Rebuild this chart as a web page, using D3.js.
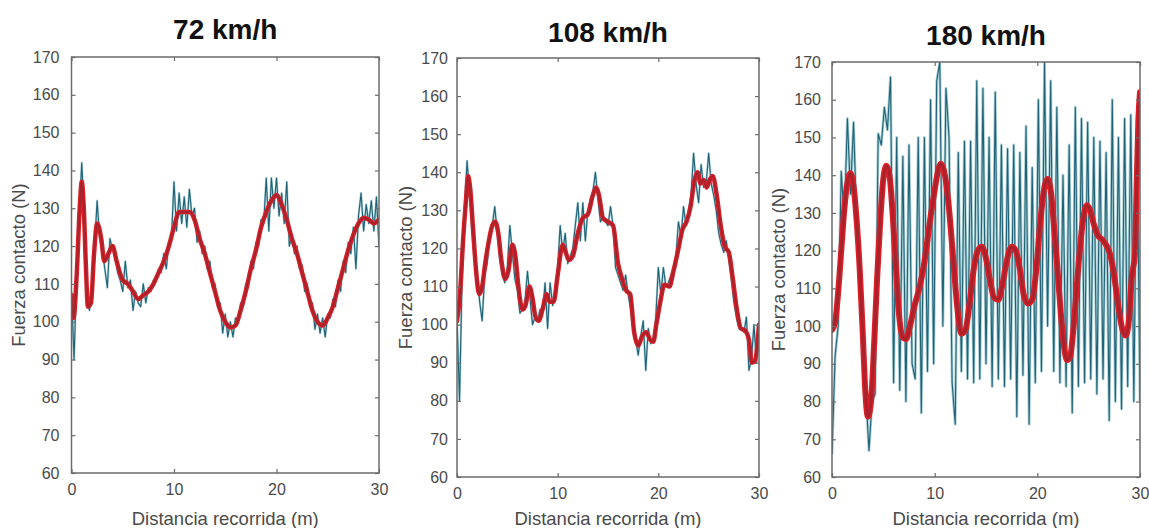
<!DOCTYPE html>
<html>
<head>
<meta charset="utf-8">
<script src="https://cdn.jsdelivr.net/npm/d3@7"></script>
<style>
  body { margin: 0; background: #fff; }
  svg { display: block; }
</style>
</head>
<body>
<svg id="chart" width="1149" height="528"></svg>
<script>
// --- data ---
const titles = ['72 km/h', '108 km/h', '180 km/h'];
const yTicks = [60, 70, 80, 90, 100, 110, 120, 130, 140, 150, 160, 170];
const xTicks = [0, 10, 20, 30];

// raw contact force (blue), evenly spaced over 0..30 m
const raw72 = [
  108, 90, 112, 128, 142, 128, 106, 103, 110, 120, 132, 122,
  119, 114, 109, 122, 119, 118, 113, 111, 108, 116, 109, 111,
  103, 108, 105, 104, 110, 105, 109, 108, 111, 111, 114, 113,
  118, 114, 121, 122, 137, 124, 134, 126, 133, 125, 135, 128,
  130, 121, 124, 118, 120, 114, 116, 109, 110, 104, 105, 97,
  102, 96, 100, 96, 101, 100, 105, 104, 110, 109, 116, 114,
  121, 120, 127, 126, 138, 124, 138, 130, 138, 128, 134, 126,
  137, 120, 123, 118, 120, 114, 115, 108, 110, 104, 105, 98,
  102, 97, 101, 96, 102, 101, 106, 104, 111, 108, 116, 113,
  121, 118, 125, 114, 128, 134, 124, 131, 126, 132, 124, 133,
  120
];
const raw108 = [
  102, 80, 112, 130, 143, 134, 124, 117, 114, 106, 101, 113,
  116, 124, 126, 131, 124, 117, 113, 111, 115, 126, 119, 112,
  109, 103, 104, 106, 114, 107, 100, 102, 101, 104, 103, 111,
  99, 111, 105, 108, 115, 126, 119, 124, 116, 118, 120, 126,
  132, 122, 132, 122, 130, 133, 135, 140, 133, 127, 128, 127,
  126, 131, 126, 115, 113, 111, 109, 113, 108, 104, 98, 96,
  92, 97, 101, 88, 99, 95, 96, 102, 115, 108, 115, 110,
  111, 113, 115, 118, 127, 123, 131, 126, 130, 134, 145, 137,
  132, 142, 136, 137, 145, 137, 134, 130, 124, 121, 119, 122,
  117, 112, 106, 102, 99, 99, 98, 102, 88, 91, 100, 90,
  101
];
const raw180 = [
  66, 92, 100, 141, 128, 155, 135, 154, 128, 118,
  95, 82, 67, 80, 82, 151, 148, 158, 152, 166,
  85, 150, 83, 145, 80, 148, 90, 86, 150, 77,
  150, 88, 160, 90, 165, 170, 100, 163, 150, 85,
  74, 146, 88, 149, 86, 149, 85, 165, 86, 163,
  90, 150, 84, 162, 86, 148, 84, 147, 86, 148,
  76, 146, 87, 153, 74, 142, 85, 160, 88, 170,
  100, 165, 88, 158, 85, 140, 84, 148, 77, 158,
  84, 155, 85, 154, 86, 150, 82, 149, 86, 146,
  75, 160, 80, 150, 78, 155, 84, 156, 80, 155,
  80
];

// filtered force (red): distances and values
const smoothX72 = [0, 0.2, 0.5, 0.8, 1.0, 1.2, 1.4, 1.6, 1.9, 2.2, 2.5, 2.9, 3.2, 3.6, 4.0, 4.4,
  5, 5.5, 6, 6.5, 7, 7.5, 8, 8.5, 9, 9.5, 10, 10.5, 11, 11.5, 12, 12.5, 13, 13.5, 14, 14.5,
  15, 15.5, 16, 16.5, 17, 17.5, 18, 18.5, 19, 19.5, 20, 20.5, 21, 21.5, 22, 22.5, 23, 23.5,
  24, 24.5, 25, 25.5, 26, 26.5, 27, 27.5, 28, 28.5, 29, 29.5, 30];
const smoothY72 = [107, 101, 112, 130, 137, 130, 115, 104, 105, 118, 126, 122, 116, 118, 120, 116,
  111, 110, 108, 106, 107, 108, 110, 113, 116, 120, 125, 129, 129, 129, 127, 122, 118, 113, 108, 103,
  100, 98.5, 99, 103, 108, 114, 119, 125, 129, 132, 133.5, 131, 127, 122, 118, 113, 108, 103,
  100, 99, 101, 104, 109, 114, 119, 123, 126, 127.5, 127, 126, 127];

const smoothX108 = [0, 0.3, 0.6, 0.9, 1.1, 1.3, 1.6, 1.9, 2.2, 2.5, 2.8, 3.1, 3.5, 3.8, 4.1, 4.4,
  4.8, 5.1, 5.5, 5.8, 6.1, 6.5, 6.8, 7.2, 7.5, 7.8, 8.1, 8.5, 8.9, 9.2, 9.6, 10, 10.5, 10.8,
  11.1, 11.5, 12, 12.5, 13, 13.5, 13.8, 14.1, 14.5, 15, 15.5, 16, 16.4, 16.8, 17.2, 17.6, 18,
  18.4, 18.8, 19.2, 19.5, 19.8, 20.2, 20.6, 21.1, 21.5, 22, 22.4, 22.8, 23.2, 23.6, 23.9, 24.2,
  24.5, 24.8, 25.1, 25.4, 25.8, 26.2, 26.6, 27, 27.4, 27.8, 28.2, 28.6, 29, 29.3, 29.6, 30];
const smoothY108 = [101, 108, 122, 133, 139, 136, 125, 114, 108, 110, 116, 121, 126, 127, 124, 117,
  112, 114, 121, 118, 110, 104, 105, 110, 107, 102, 101, 104, 108, 106, 106, 113, 121, 119,
  117, 118, 124, 128, 129, 134, 136, 134, 128, 127, 126, 116, 112, 109, 108, 98, 94.5,
  97, 98, 96, 95.5, 100, 106, 110.5, 110, 114, 120, 125, 127, 131, 138, 140, 137,
  138, 136, 138, 139, 134, 126, 120.5, 119, 112, 104, 99, 98.5, 96, 90, 90.5, 100];

const smoothX180 = [0, 0.3, 0.6, 0.9, 1.2, 1.5, 1.8, 2.1, 2.4, 2.7, 3.0, 3.2, 3.5, 3.8, 4.1, 4.4,
  4.7, 5.0, 5.3, 5.6, 5.9, 6.2, 6.5, 6.9, 7.2, 7.6, 8, 8.5, 9, 9.5, 10, 10.4, 10.6, 11, 11.4,
  11.8, 12.2, 12.6, 13, 13.4, 13.8, 14.2, 14.6, 15, 15.4, 15.8, 16.2, 16.6, 17, 17.5, 17.9,
  18.3, 18.7, 19.1, 19.5, 19.9, 20.3, 20.7, 21, 21.3, 21.7, 22.1, 22.5, 22.9, 23.2, 23.6, 24,
  24.4, 24.8, 25.1, 25.5, 25.9, 26.3, 26.7, 27.1, 27.5, 27.9, 28.3, 28.6, 28.9, 29.2, 29.5,
  29.7, 29.85, 30];
const smoothY180 = [99, 101, 109, 120, 131, 138, 140.5, 137, 128, 115, 98, 85, 76, 80, 95, 113,
  128, 139, 142.5, 140, 130, 117, 104, 97, 96.5, 100, 105, 110, 117, 127, 136, 142, 143, 140, 131,
  118, 105, 98, 99, 106, 115, 120, 121, 118, 112, 107.5, 107, 111, 117, 121, 120,
  115, 108, 106, 107, 115, 128, 137, 139, 136, 124, 110, 97, 91, 92, 102, 116,
  127, 132, 131, 127, 124, 123, 121.5, 119, 113, 105, 99, 97.5, 101, 113, 119,
  140, 155, 162];

const rawSeries = [raw72, raw108, raw180];
const smoothXs = [smoothX72, smoothX108, smoothX180];
const smoothYs = [smoothY72, smoothY108, smoothY180];

// --- layout of the three axes boxes (pixels) ---
const boxes = [
  { left: 71.5, right: 379, top: 57, bottom: 473, titleY: 39, yLabelX: 18, yLabelGap: 8 },
  { left: 457, right: 759, top: 58, bottom: 477, titleY: 42, yLabelX: 405, yLabelGap: 5 },
  { left: 832, right: 1140, top: 62, bottom: 477, titleY: 45, yLabelX: 778, yLabelGap: 7 },
];

const svg = d3.select('#chart');
const axisColor = '#6b6b6b';
const textColor = '#4a4a4a';
const font = 'Liberation Sans, Arial, Helvetica, sans-serif';

boxes.forEach((b, k) => {
  const x = d3.scaleLinear().domain([0, 30]).range([b.left, b.right]);
  const y = d3.scaleLinear().domain([60, 170]).range([b.bottom, b.top]);
  const g = svg.append('g');

  const clipId = `clip-${k}`;
  g.append('clipPath').attr('id', clipId)
    .append('rect')
    .attr('x', b.left).attr('y', b.top)
    .attr('width', b.right - b.left).attr('height', b.bottom - b.top);

  const plot = g.append('g').attr('clip-path', `url(#${clipId})`);

  const raw = rawSeries[k];
  const rawLine = d3.line()
    .x((d, i) => x((i * 30) / (raw.length - 1)))
    .y((d) => y(d));
  // soft halo, like the blurred original
  plot.append('path')
    .datum(raw)
    .attr('fill', 'none')
    .attr('stroke', '#8fc0c8')
    .attr('stroke-width', k === 2 ? 2.8 : 2.2)
    .attr('stroke-opacity', 0.75)
    .attr('stroke-linejoin', 'round')
    .attr('d', rawLine);
  plot.append('path')
    .datum(raw)
    .attr('fill', 'none')
    .attr('stroke', '#1f6276')
    .attr('stroke-width', 1.1)
    .attr('stroke-linejoin', 'round')
    .attr('d', rawLine);

  const pts = smoothXs[k].map((d, i) => [d, smoothYs[k][i]]);
  const smoothLine = d3.line()
    .x((d) => x(d[0]))
    .y((d) => y(d[1]))
    .curve(d3.curveMonotoneX);
  const w = k === 2 ? 6 : 4.5;
  plot.append('path')
    .datum(pts)
    .attr('fill', 'none')
    .attr('stroke', '#dc1f26')
    .attr('stroke-width', w)
    .attr('stroke-linejoin', 'round')
    .attr('stroke-linecap', 'round')
    .attr('d', smoothLine);
  plot.append('path')
    .datum(pts)
    .attr('fill', 'none')
    .attr('stroke', '#a5232d')
    .attr('stroke-width', w * 0.45)
    .attr('stroke-linejoin', 'round')
    .attr('d', smoothLine);

  // box with inward ticks on all sides
  const tickLen = 4;
  const addAxis = (axis, tx, ty, labels) => {
    const a = g.append('g')
      .attr('transform', `translate(${tx},${ty})`)
      .call(axis);
    a.select('.domain').remove();
    a.selectAll('line').attr('stroke', axisColor).attr('stroke-width', 1.2);
    a.selectAll('text')
      .attr('fill', textColor)
      .style('font-family', font)
      .style('font-size', '16px');
    if (!labels) a.selectAll('text').remove();
    return a;
  };
  addAxis(d3.axisBottom(x).tickValues(xTicks).tickSizeInner(-tickLen).tickSizeOuter(0)
    .tickPadding(11), 0, b.bottom, true);
  addAxis(d3.axisTop(x).tickValues(xTicks).tickSizeInner(-tickLen).tickSizeOuter(0), 0, b.top, false);
  addAxis(d3.axisLeft(y).tickValues(yTicks).tickSizeInner(-tickLen).tickSizeOuter(0)
    .tickPadding(b.yLabelGap + tickLen), b.left, 0, true);
  addAxis(d3.axisRight(y).tickValues(yTicks).tickSizeInner(-tickLen).tickSizeOuter(0), b.right, 0, false);

  g.append('rect')
    .attr('x', b.left).attr('y', b.top)
    .attr('width', b.right - b.left).attr('height', b.bottom - b.top)
    .attr('fill', 'none')
    .attr('stroke', axisColor)
    .attr('stroke-width', 1.5);

  g.append('text')
    .attr('x', (b.left + b.right) / 2)
    .attr('y', b.titleY)
    .attr('text-anchor', 'middle')
    .style('font-family', font)
    .style('font-size', '28px')
    .style('font-weight', 'bold')
    .attr('fill', '#111')
    .text(titles[k]);

  g.append('text')
    .attr('x', (b.left + b.right) / 2)
    .attr('y', 525)
    .attr('text-anchor', 'middle')
    .style('font-family', font)
    .style('font-size', '18.5px')
    .attr('fill', textColor)
    .text('Distancia recorrida (m)');

  g.append('text')
    .attr('transform', `translate(${b.yLabelX},${(b.top + b.bottom) / 2}) rotate(-90)`)
    .attr('text-anchor', 'middle')
    .attr('dominant-baseline', 'central')
    .style('font-family', font)
    .style('font-size', '18.5px')
    .attr('fill', textColor)
    .text('Fuerza contacto (N)');
});
</script>
</body>
</html>
